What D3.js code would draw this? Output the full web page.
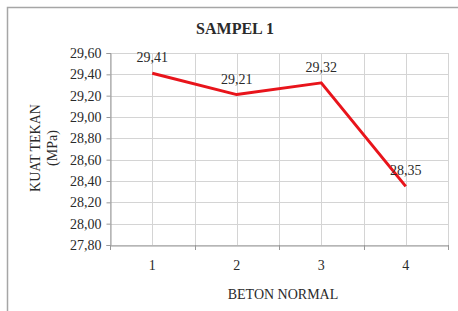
<!DOCTYPE html>
<html><head><meta charset="utf-8">
<script src="https://cdn.jsdelivr.net/npm/d3@7"></script>
<style>body{margin:0;background:#fff}svg{display:block}svg text{font-family:"Liberation Serif","DejaVu Serif",serif}</style>
</head><body>
<script>
const categories = ["1","2","3","4"];
const values = [29.41, 29.21, 29.32, 28.35];
const valueLabels = ["29,41","29,21","29,32","28,35"];
const yTicks = [27.8,28.0,28.2,28.4,28.6,28.8,29.0,29.2,29.4,29.6];
const title = "SAMPEL 1";
const xTitle = "BETON NORMAL";
const yTitle = ["KUAT TEKAN","(MPa)"];

const W = 458, H = 311;
const svg = d3.select("body").append("svg").attr("width", W).attr("height", H);
const txt = "#2a2a2a";

svg.append("rect").attr("x", 7.5).attr("y", 7.5).attr("width", W + 20).attr("height", H + 20)
  .attr("fill", "#fff").attr("stroke", "#a6a6a6").attr("stroke-width", 1.5);

const L = 110, R = 448, T = 53, B = 245;
const x = d3.scaleBand().domain(categories).range([L, R]);
const y = d3.scaleLinear().domain([27.8, 29.6]).range([B, T]);

svg.append("g").selectAll("line").data(yTicks).join("line")
  .attr("x1", L).attr("x2", R).attr("y1", d => Math.round(y(d)) + 0.5).attr("y2", d => Math.round(y(d)) + 0.5)
  .attr("stroke", "#d4d4d4").attr("stroke-width", 1);
const vEdges = categories.map(c => x(c)).concat([R]);
const vCenters = categories.map(c => x(c) + x.bandwidth() / 2);
svg.append("g").selectAll("line").data(vEdges.concat(vCenters)).join("line")
  .attr("x1", d => Math.round(d) + 0.5).attr("x2", d => Math.round(d) + 0.5).attr("y1", T).attr("y2", B)
  .attr("stroke", "#d4d4d4").attr("stroke-width", 1);

const yAxis = svg.append("g").attr("transform", `translate(${L + 0.5},0)`)
  .call(d3.axisLeft(y).tickValues(yTicks).tickSize(4).tickPadding(5)
    .tickFormat(d => d3.format(".2f")(d).replace(".", ",")));
yAxis.attr("font-family", null);
yAxis.select(".domain").attr("stroke", "#999");
yAxis.selectAll(".tick line").attr("stroke", "#999");
yAxis.selectAll("text").attr("font-size", 14).attr("fill", txt);

const xAxis = svg.append("g").attr("transform", `translate(0,${B + 0.5})`)
  .call(d3.axisBottom(x).tickSize(0).tickPadding(15));
xAxis.attr("font-family", null);
xAxis.select(".domain").attr("stroke", "#999");
xAxis.selectAll("text").attr("font-size", 14).attr("fill", txt);
svg.append("g").selectAll("line").data(vEdges).join("line")
  .attr("x1", d => Math.round(d) + 0.5).attr("x2", d => Math.round(d) + 0.5).attr("y1", B).attr("y2", B + 5)
  .attr("stroke", "#999");

const line = d3.line().x((d, i) => x(categories[i]) + x.bandwidth() / 2).y(d => y(d));
svg.append("path").datum(values).attr("d", line).attr("fill", "none")
  .attr("stroke", "#e8141b").attr("stroke-width", 3).attr("stroke-linejoin", "round");

svg.append("g").selectAll("text").data(values).join("text")
  .attr("x", (d, i) => x(categories[i]) + x.bandwidth() / 2)
  .attr("y", d => y(d) - 11)
  .attr("text-anchor", "middle").attr("font-size", 14).attr("fill", txt)
  .text((d, i) => valueLabels[i]);

svg.append("text").attr("x", 235).attr("y", 34).attr("text-anchor", "middle")
  .attr("font-size", 16).attr("font-weight", "bold").attr("fill", txt).text(title);
svg.append("text").attr("x", 283).attr("y", 299).attr("text-anchor", "middle")
  .attr("font-size", 14).attr("fill", txt).text(xTitle);
yTitle.forEach((t, i) => {
  svg.append("text").attr("transform", `translate(${40 + i * 17},148) rotate(-90)`)
    .attr("text-anchor", "middle").attr("font-size", 14).attr("fill", txt).text(t);
});
</script>
</body></html>
